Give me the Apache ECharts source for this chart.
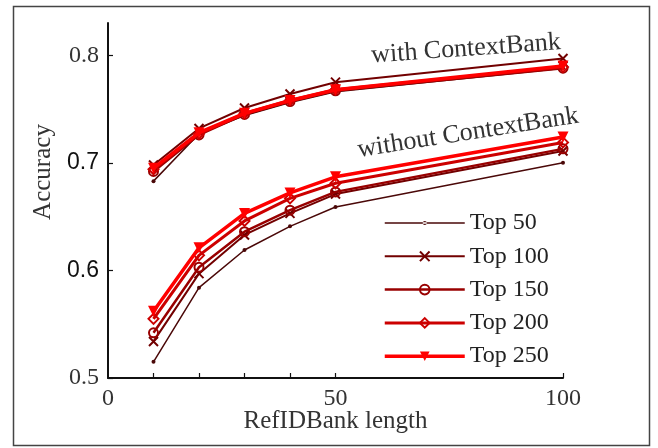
<!DOCTYPE html>
<html>
<head>
<meta charset="utf-8">
<script src="https://cdn.jsdelivr.net/npm/echarts@6/dist/echarts.min.js"></script>
<style>
html,body{margin:0;padding:0;background:#fff;}
#c{width:658px;height:448px;}
</style>
</head>
<body>
<div id="c"></div>
<script>
const xValues = [10, 20, 30, 40, 50, 100];
const seriesNames = ['Top 50', 'Top 100', 'Top 150', 'Top 200', 'Top 250'];

const withTop50  = [0.683, 0.727, 0.744, 0.756, 0.766, 0.788];
const withTop100 = [0.698, 0.732, 0.751, 0.764, 0.775, 0.797];
const withTop150 = [0.692, 0.726, 0.745, 0.757, 0.767, 0.788];
const withTop200 = [0.694, 0.727, 0.746, 0.758, 0.768, 0.789];
const withTop250 = [0.695, 0.728, 0.746, 0.758, 0.768, 0.790];

const withoutTop50  = [0.515, 0.584, 0.619, 0.641, 0.659, 0.700];
const withoutTop100 = [0.534, 0.597, 0.633, 0.653, 0.671, 0.711];
const withoutTop150 = [0.542, 0.603, 0.636, 0.656, 0.673, 0.713];
const withoutTop200 = [0.555, 0.614, 0.646, 0.667, 0.681, 0.719];
const withoutTop250 = [0.562, 0.621, 0.653, 0.672, 0.687, 0.724];

const xTickValues = [10, 20, 30, 40, 50, 100];
const xLabelValues = [0, 50, 100];
const yTickValues = [0.5, 0.6, 0.7, 0.8];
const ySansLabels = ['0.6', '0.7'];

const withData = [withTop50, withTop100, withTop150, withTop200, withTop250];
const withoutData = [withoutTop50, withoutTop100, withoutTop150, withoutTop200, withoutTop250];

const styles = [
  {color: '#4a0808', width: 1.5, symbol: 'circle', size: 4, filled: true},
  {color: '#720000', width: 2, symbol: 'path://M0,0L10,10M10,0L0,10', size: 9, filled: false},
  {color: '#990000', width: 2.5, symbol: 'circle', size: 9, filled: false},
  {color: '#cc0000', width: 3, symbol: 'diamond', size: 10, filled: false},
  {color: '#ff0000', width: 3.5, symbol: 'triangle', size: 11, filled: true, rotate: 180}
];

function pairs(arr) { return xValues.map((x, i) => [x, arr[i]]); }

const series = [];
[withoutData, withData].forEach(group => {
  group.forEach((arr, i) => {
    const s = styles[i];
    series.push({
      name: seriesNames[i],
      type: 'line',
      data: pairs(arr),
      symbol: s.symbol,
      symbolSize: s.size,
      symbolRotate: s.rotate || 0,
      showAllSymbol: true,
      animation: false,
      z: 2 + i,
      lineStyle: {color: s.color, width: s.width},
      itemStyle: s.filled
        ? {color: s.color, borderColor: s.color, borderWidth: 0}
        : {color: 'rgba(255,255,255,0)', borderColor: s.color, borderWidth: 2},
      emphasis: {disabled: true}
    });
  });
});

const legendData = seriesNames.map((n, i) => i === 0
  ? {name: n, icon: 'path://M0,0M80,12M0,5.2h80v1.6h-80zM38,6a2,2 0 1,0 4,0a2,2 0 1,0 -4,0z',
     itemStyle: {color: styles[0].color}}
  : {name: n, lineStyle: {width: styles[i].width}});

const serif = 'Liberation Serif';
const chart = echarts.init(document.getElementById('c'), null, {renderer: 'canvas'});
chart.setOption({
  animation: false,
  backgroundColor: '#fff',
  grid: {left: 108, right: 95, top: 23, bottom: 70, containLabel: false},
  xAxis: {
    type: 'value', min: 0, max: 100, interval: 50,
    axisLine: {show: true, onZero: false, lineStyle: {color: '#111', width: 2}},
    axisTick: {show: true, inside: true, length: 5, customValues: xTickValues, lineStyle: {color: '#111', width: 1.2}},
    axisLabel: {customValues: xLabelValues, margin: 9, fontFamily: serif, fontSize: 24, color: '#333'},
    splitLine: {show: false},
    name: 'RefIDBank length', nameLocation: 'middle', nameGap: 31, nameMoveOverlap: false,
    nameTextStyle: {fontFamily: serif, fontSize: 25, color: '#333'}
  },
  yAxis: {
    type: 'value', min: 0.5, max: 0.83, interval: 0.1,
    axisLine: {show: true, onZero: false, lineStyle: {color: '#111', width: 2}},
    axisTick: {show: true, inside: true, length: 5, customValues: yTickValues, lineStyle: {color: '#111', width: 1.2}},
    axisLabel: {
      customValues: yTickValues, margin: 9,
      formatter: v => {
        const t = v.toFixed(1);
        return ySansLabels.indexOf(t) >= 0 ? '{s|' + t + '}' : '{r|' + t + '}';
      },
      rich: {
        s: {fontFamily: 'Liberation Sans', fontSize: 23, color: '#111'},
        r: {fontFamily: serif, fontSize: 24, color: '#333'}
      }
    },
    splitLine: {show: false}
  },
  legend: {
    orient: 'vertical', left: 378, top: 206,
    itemWidth: 80, itemHeight: 12, itemGap: 9.3,
    textStyle: {fontFamily: serif, fontSize: 24, color: '#222', lineHeight: 24},
    data: legendData,
    selectedMode: false
  },
  graphic: [
    {type: 'rect', shape: {x: 13.5, y: 6.5, width: 636, height: 439}, style: {fill: 'none', stroke: '#444', lineWidth: 1.5}, silent: true, z: 0},
    {type: 'text', x: 43, y: 172, rotation: Math.PI / 2,
      style: {text: 'Accuracy', fontFamily: serif, fontSize: 25, fill: '#333', align: 'center', verticalAlign: 'middle'}},
    {type: 'text', x: 466, y: 49, rotation: 4.1 * Math.PI / 180,
      style: {text: 'with ContextBank', fontFamily: serif, fontSize: 26, fill: '#333', align: 'center', verticalAlign: 'middle'}},
    {type: 'text', x: 468, y: 133, rotation: 8.9 * Math.PI / 180,
      style: {text: 'without ContextBank', fontFamily: serif, fontSize: 26, fill: '#333', align: 'center', verticalAlign: 'middle'}}
  ],
  series: series
});
</script>
</body>
</html>
